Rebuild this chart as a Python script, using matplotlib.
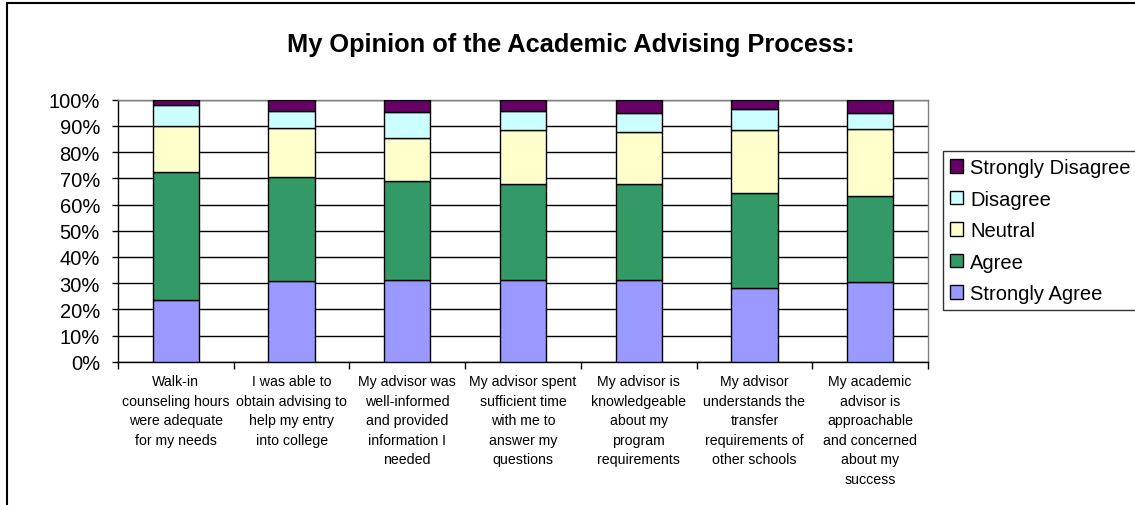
import matplotlib.pyplot as plt
import numpy as np
from matplotlib.patches import Rectangle

plt.rcParams['font.family'] = ['Liberation Sans', 'DejaVu Sans']

# survey questions (x axis)
questions = [
    "Walk-in\ncounseling hours\nwere adequate\nfor my needs",
    "I was able to\nobtain advising to\nhelp my entry\ninto college",
    "My advisor was\nwell-informed\nand provided\ninformation I\nneeded",
    "My advisor spent\nsufficient time\nwith me to\nanswer my\nquestions",
    "My advisor is\nknowledgeable\nabout my\nprogram\nrequirements",
    "My advisor\nunderstands the\ntransfer\nrequirements of\nother schools",
    "My academic\nadvisor is\napproachable\nand concerned\nabout my\nsuccess",
]

# percent of responses, bottom to top
strongly_agree = [23.4, 30.8, 31.3, 31.3, 31.3, 28.2, 30.4]
agree = [49.0, 39.6, 37.6, 36.4, 36.5, 36.2, 33.0]
neutral = [17.6, 18.9, 16.5, 20.6, 20.0, 23.9, 25.5]
disagree = [8.0, 6.4, 9.8, 7.4, 7.0, 8.0, 5.9]
strongly_disagree = [2.0, 4.3, 4.8, 4.3, 5.2, 3.7, 5.2]

series = [
    ("Strongly Agree", strongly_agree, "#9999FF"),
    ("Agree", agree, "#339966"),
    ("Neutral", neutral, "#FFFFCC"),
    ("Disagree", disagree, "#CCFFFF"),
    ("Strongly Disagree", strongly_disagree, "#660066"),
]

fig = plt.figure(figsize=(11.35, 5.06), dpi=100)
ax = fig.add_axes([118 / 1135, 1 - 362.7 / 506, 810 / 1135, 262 / 506])

x = np.arange(len(questions))
bottom = np.zeros(len(questions))
handles = []
for name, vals, color in series:
    vals = np.array(vals)
    b = ax.bar(x, vals, width=0.4, bottom=bottom, color=color,
               edgecolor="black", linewidth=1, label=name, zorder=3)
    handles.append(b)
    bottom += vals

ax.set_xlim(-0.5, len(questions) - 0.5)
ax.set_ylim(0, 100)
ax.set_yticks(np.arange(0, 101, 10))
ax.set_yticklabels([f"{v}%" for v in range(0, 101, 10)], fontsize=14.5)
ax.yaxis.grid(True, color="black", linewidth=1, zorder=0)

# ticks between categories, labels at centres
ax.set_xticks(np.arange(-0.5, len(questions), 1))
ax.set_xticklabels([])
ax.set_xticks(x, minor=True)
ax.set_xticklabels(questions, minor=True, fontsize=10.2, linespacing=1.5,
                   va="top")
ax.tick_params(axis="x", which="minor", length=0, pad=9)
ax.tick_params(axis="x", which="major", direction="out", length=5, width=1)
ax.tick_params(axis="y", direction="out", length=4.5, width=1, pad=8.5)

for s in ["left", "bottom"]:
    ax.spines[s].set_color("black")
    ax.spines[s].set_linewidth(1)
for s in ["right", "top"]:
    ax.spines[s].set_color("#808080")
    ax.spines[s].set_linewidth(1)

leg = ax.legend(handles[::-1], [s[0] for s in series][::-1],
                loc="upper left", bbox_to_anchor=(943 / 1135, 1 - 152 / 506),
                bbox_transform=fig.transFigure, fontsize=14.5, frameon=True,
                fancybox=False, edgecolor="black", handlelength=0.65,
                handleheight=0.65, handletextpad=0.35, labelspacing=0.62,
                borderpad=0.35, borderaxespad=0)
leg.get_frame().set_linewidth(1)

fig.text(571 / 1135, 1 - 45 / 506, "My Opinion of the Academic Advising Process:",
         ha="center", va="center", fontsize=18.3, fontweight="bold")

# outer chart frame
fig.patches.append(Rectangle((7 / 1135, -0.1), 1.2, 1 - 4 / 506 + 0.1,
                             transform=fig.transFigure, fill=False,
                             edgecolor="black", linewidth=1.5))

fig.savefig("out.png", dpi=100)
